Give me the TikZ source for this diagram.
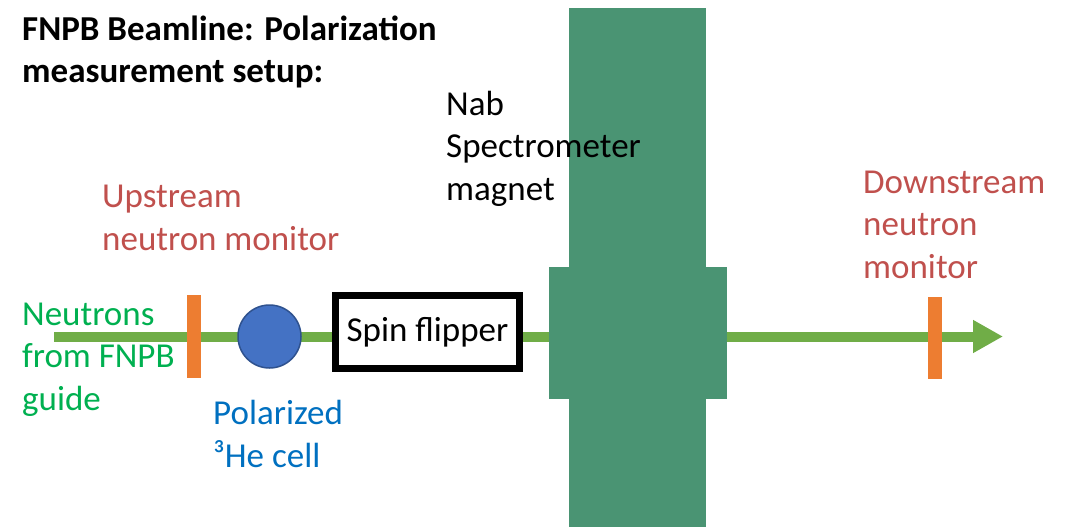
\documentclass[tikz,border=0pt]{standalone}
\usepackage{fontspec}
\setmainfont{Carlito}
\usetikzlibrary{arrows.meta}
\definecolor{beamgreen}{HTML}{70AD47}
\definecolor{magnetgreen}{HTML}{4A9473}
\definecolor{monorange}{HTML}{ED7D31}
\definecolor{cellblue}{HTML}{4472C4}
\definecolor{cellrim}{HTML}{2F528F}
\definecolor{labelred}{HTML}{C0504D}
\definecolor{labelgreen}{HTML}{00B050}
\definecolor{labelblue}{HTML}{0070C0}
\tikzset{
  lbl/.style={anchor=base west, inner sep=0pt, align=left, font=\fontsize{35}{42.5}\selectfont},
  monitor/.style={fill=monorange},
}

\begin{document}
\begin{tikzpicture}[x=1pt, y=-1pt]
			%%%%% START %%%%%
			\useasboundingbox (0,0) rectangle (1071,527);
			
			% beam
			\coordinate (beamin) at (54,336.5);
			\coordinate (beamout) at (1003,336.5);
			\draw[line width=10pt, color=beamgreen, -{Triangle[length=30pt,width=31pt]}] (beamin) -- (beamout);
			
			% magnet
			\fill[magnetgreen] (569,8) rectangle (706,527);
			\fill[magnetgreen] (549,267) rectangle (727,399);
			
			% monitors
			\fill[monitor] (187,295) rectangle (201,378);
			\fill[monitor] (928,297) rectangle (942,379);
			
			\node[circle, fill=cellblue, draw=cellrim, line width=1.5pt, minimum size=63pt, inner sep=0pt] (cell) at (269.5,336.5) {};
			\node[draw=black, fill=white, line width=7pt, minimum width=184pt, minimum height=73pt, inner sep=0pt, font=\fontsize{35}{42.5}\selectfont] (flipper) at (427.5,332) {Spin flipper};
			
			% labels (base = last line)
			\node[lbl, font=\fontsize{35}{42}\selectfont\bfseries] (title) at (22,82) {FNPB Beamline: Polarization\\measurement setup:};
			\node[lbl] (nablabel) at (446,200) {Nab\\Spectrometer\\magnet};
			\node[lbl, text=labelred] (uplabel) at (102,250) {Upstream\\neutron monitor};
			\node[lbl, text=labelred] (downlabel) at (863,278) {Downstream\\neutron\\monitor};
			\node[lbl, text=labelgreen] (srclabel) at (22,410) {Neutrons\\from FNPB\\guide};
			\node[lbl, text=labelblue] (celllabel) at (213,467) {Polarized\\³He cell};
			
			%%%%% END %%%%%
\end{tikzpicture}
\end{document}
